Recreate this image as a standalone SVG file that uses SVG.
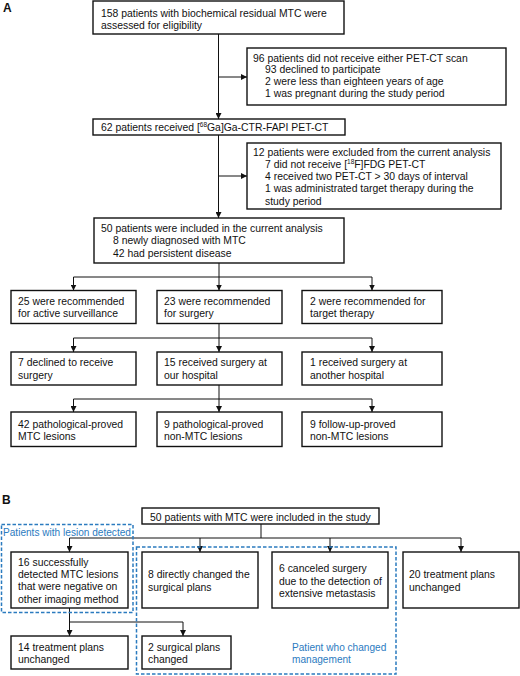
<svg xmlns="http://www.w3.org/2000/svg" width="520" height="676" viewBox="0 0 520 676">
<defs>
<style>
.bx{fill:#fff;stroke:#111;stroke-width:1.4}
.t{font-family:"Liberation Sans",Arial,Helvetica,sans-serif;font-size:10.4px;fill:#111}
.lbl{font-family:"Liberation Sans",Arial,Helvetica,sans-serif;font-size:12px;font-weight:bold;fill:#111}
.c{fill:none;stroke:#111;stroke-width:1}
.ca{fill:none;stroke:#111;stroke-width:1;marker-end:url(#ah)}
.db{fill:none;stroke:#2b7bbf;stroke-width:1.5;stroke-dasharray:3.5 2}
.bt{font-family:"Liberation Sans",Arial,Helvetica,sans-serif;font-size:10.1px;fill:#2b7bbf}
.sup{font-size:6.5px}
</style>
<marker id="ah" viewBox="0 0 6 6" refX="6" refY="3" markerWidth="6" markerHeight="6" markerUnits="userSpaceOnUse" orient="auto">
<path d="M0,0 L6,3 L0,6 z" fill="#111"/>
</marker>
</defs>
<rect width="520" height="676" fill="#fff"/>

<text class="lbl" x="3" y="11.7">A</text>
<text class="lbl" x="2" y="504">B</text>

<g id="connectors">
<path class="ca" d="M218.5,34 V119"/>
<path class="ca" d="M218.5,77 H247"/>
<path class="ca" d="M218.5,135 V218"/>
<path class="ca" d="M218.5,176 H247"/>
<path class="c" d="M219,263 V277 M73.5,277 H372"/>
<path class="ca" d="M73.5,277 V290.5"/>
<path class="ca" d="M219,277 V290.5"/>
<path class="ca" d="M372,277 V290.5"/>
<path class="c" d="M219,323 V338 M73.5,338 H372"/>
<path class="ca" d="M73.5,338 V352"/>
<path class="ca" d="M219,338 V352"/>
<path class="ca" d="M372,338 V352"/>
<path class="c" d="M219,385 V399 M73.5,399 H372"/>
<path class="ca" d="M73.5,399 V412"/>
<path class="ca" d="M219,399 V412"/>
<path class="ca" d="M372,399 V412"/>
<path class="c" d="M261,524 V538 M69.5,538 H461"/>
<path class="ca" d="M69.5,538 V552"/>
<path class="ca" d="M200,538 V552"/>
<path class="ca" d="M330,538 V552"/>
<path class="ca" d="M461,538 V552"/>
<path class="ca" d="M69.5,608 V636"/>
<path class="c" d="M69.5,622 H183"/>
<path class="ca" d="M183,622 V636"/>
</g>

<g id="n1"><rect class="bx" x="93" y="1" width="251" height="33"/>
<text class="t" x="101" y="17">158 patients with biochemical residual MTC were</text>
<text class="t" x="101" y="28.6">assessed for eligibility</text></g>

<g id="n2"><rect class="bx" x="247" y="48" width="259" height="57"/>
<text class="t" x="253" y="61.6">96 patients did not receive either PET-CT scan</text>
<text class="t" x="265" y="73.4">93 declined to participate</text>
<text class="t" x="265" y="85.2">2 were less than eighteen years of age</text>
<text class="t" x="265" y="97">1 was pregnant during the study period</text></g>

<g id="n3"><rect class="bx" x="93" y="119" width="252" height="16"/>
<text class="t" x="101" y="130.7">62 patients received [<tspan class="sup" dy="-3.5">68</tspan><tspan dy="3.5">Ga]Ga-CTR-FAPI PET-CT</tspan></text></g>

<g id="n4"><rect class="bx" x="247" y="143" width="254" height="66"/>
<text class="t" x="253" y="155.7">12 patients were excluded from the current analysis</text>
<text class="t" x="265" y="167.9">7 did not receive [<tspan class="sup" dy="-3.5">18</tspan><tspan dy="3.5">F]FDG PET-CT</tspan></text>
<text class="t" x="265" y="180.1">4 received two PET-CT &gt; 30 days of interval</text>
<text class="t" x="265" y="192.3">1 was administrated target therapy during the</text>
<text class="t" x="265" y="204.5">study period</text></g>

<g id="n5"><rect class="bx" x="94" y="218" width="250" height="45"/>
<text class="t" x="101" y="231.8">50 patients were included in the current analysis</text>
<text class="t" x="113" y="244.2">8 newly diagnosed with MTC</text>
<text class="t" x="113" y="256.6">42 had persistent disease</text></g>

<g id="n6"><rect class="bx" x="11" y="290.5" width="125" height="33"/>
<text class="t" x="18" y="305.4">25 were recommended</text>
<text class="t" x="18" y="317">for active surveillance</text></g>
<g id="n7"><rect class="bx" x="157" y="290.5" width="125" height="33"/>
<text class="t" x="164" y="305.4">23 were recommended</text>
<text class="t" x="164" y="317">for surgery</text></g>
<g id="n8"><rect class="bx" x="302" y="290.5" width="140" height="33"/>
<text class="t" x="310" y="305.4">2 were recommended for</text>
<text class="t" x="310" y="317">target therapy</text></g>

<g id="n9"><rect class="bx" x="11" y="352" width="125" height="33"/>
<text class="t" x="18" y="366.4">7 declined to receive</text>
<text class="t" x="18" y="378.6">surgery</text></g>
<g id="n10"><rect class="bx" x="157" y="352" width="125" height="33"/>
<text class="t" x="164" y="366.4">15 received surgery at</text>
<text class="t" x="164" y="378.6">our hospital</text></g>
<g id="n11"><rect class="bx" x="302" y="352" width="140" height="33"/>
<text class="t" x="310" y="366.4">1 received surgery at</text>
<text class="t" x="310" y="378.6">another hospital</text></g>

<g id="n12"><rect class="bx" x="11" y="412" width="125" height="34.5"/>
<text class="t" x="18" y="427.7">42 pathological-proved</text>
<text class="t" x="18" y="439.8">MTC lesions</text></g>
<g id="n13"><rect class="bx" x="157" y="412" width="125" height="34.5"/>
<text class="t" x="164" y="427.7">9 pathological-proved</text>
<text class="t" x="164" y="439.8">non-MTC lesions</text></g>
<g id="n14"><rect class="bx" x="302" y="412" width="140" height="34.5"/>
<text class="t" x="310" y="427.7">9 follow-up-proved</text>
<text class="t" x="310" y="439.8">non-MTC lesions</text></g>

<g id="grp1"><rect class="db" x="1.5" y="524.5" width="131.5" height="88"/>
<text class="bt" x="3" y="535.7">Patients with lesion detected</text></g>
<g id="grp2"><rect class="db" x="136.5" y="547" width="259.5" height="127"/>
<text class="bt" x="292" y="650.6">Patient who changed</text>
<text class="bt" x="292" y="662.8">management</text></g>

<g id="b1"><rect class="bx" x="142" y="508" width="237" height="16"/>
<text class="t" x="150" y="520.7">50 patients with MTC were included in the study</text></g>

<g id="b2"><rect class="bx" x="11" y="552" width="117" height="56"/>
<text class="t" x="18" y="565.9">16 successfully</text>
<text class="t" x="18" y="578.1">detected MTC lesions</text>
<text class="t" x="18" y="590.3">that were negative on</text>
<text class="t" x="18" y="602.5">other imaging method</text></g>
<g id="b3"><rect class="bx" x="142" y="552" width="116" height="56"/>
<text class="t" x="148" y="578.4">8 directly changed the</text>
<text class="t" x="148" y="590.8">surgical plans</text></g>
<g id="b4"><rect class="bx" x="272" y="552" width="116" height="56"/>
<text class="t" x="279" y="572.4">6 canceled surgery</text>
<text class="t" x="279" y="584.6">due to the detection of</text>
<text class="t" x="279" y="596.8">extensive metastasis</text></g>
<g id="b5"><rect class="bx" x="403" y="552" width="116" height="56"/>
<text class="t" x="409" y="578.4">20 treatment plans</text>
<text class="t" x="409" y="590.8">unchanged</text></g>

<g id="b6"><rect class="bx" x="11" y="636" width="117" height="33"/>
<text class="t" x="18" y="650.6">14 treatment plans</text>
<text class="t" x="18" y="662.8">unchanged</text></g>
<g id="b7"><rect class="bx" x="142" y="636" width="89" height="33"/>
<text class="t" x="148" y="650.6">2 surgical plans</text>
<text class="t" x="148" y="662.8">changed</text></g>
</svg>
